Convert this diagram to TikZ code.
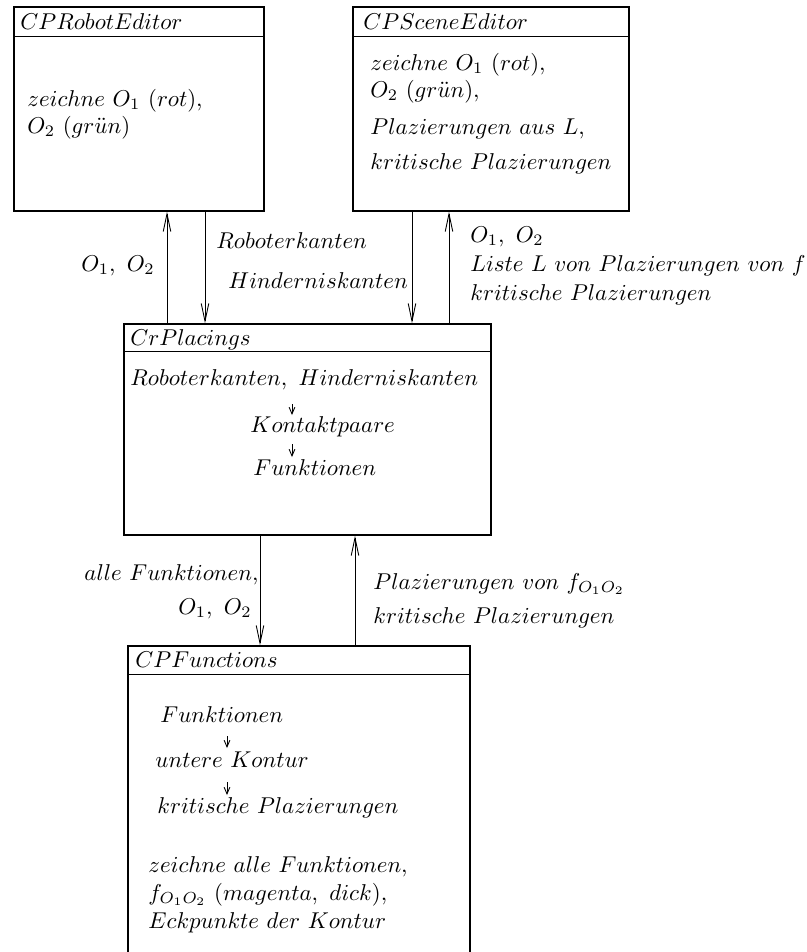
\documentclass[tikz,border=0pt]{standalone}
\usepackage{tikz}
\usetikzlibrary{fit}
\usetikzlibrary{arrows.meta}

\tikzset{
  box/.style={draw, line width=0.6pt, inner sep=0pt},
  lbl/.style={anchor=base west, inner sep=0pt, scale=1.03, transform shape},
  lblr/.style={anchor=base east, inner sep=0pt, scale=1.03, transform shape},
  flow/.style={-{Straight Barb[length=3pt,width=2.6pt]}, line width=0.4pt}
}

\begin{document}
\begin{tikzpicture}[%
  >={Straight Barb[length=8pt,width=3.4pt]},
  x=0.45pt, y=-0.45pt
]

  \useasboundingbox (0,0) rectangle (807,952);

  % corners of the four classes
  \coordinate (r1) at (14,7);    \coordinate (r2) at (264,211);
  \coordinate (s1) at (353,7);   \coordinate (s2) at (629,211);
  \coordinate (p1) at (124,324); \coordinate (p2) at (491,535);
  \coordinate (f1) at (128,646); \coordinate (f2) at (470,960);

  \node[box, fit=(r1)(r2)] (robot) {};
  \node[box, fit=(s1)(s2)] (scene) {};
  \node[box, fit=(p1)(p2)] (placings) {};
  \node[box, fit=(f1)(f2)] (functions) {};

  \draw[line width=0.6pt] (robot.north west) ++(0,30) coordinate (rh) -- (rh -| robot.east);
  \draw[line width=0.6pt] (scene.north west) ++(0,30) coordinate (sh) -- (sh -| scene.east);
  \draw[line width=0.6pt] (placings.north west) ++(0,28) coordinate (ph) -- (ph -| placings.east);
  \draw[line width=0.6pt] (functions.north west) ++(0,29) coordinate (fh) -- (fh -| functions.east);

  \node[lbl] (robtitle) at (20,29) {$CPRobotEditor$};
  \node[lbl] (scntitle) at (363,29) {$CPSceneEditor$};
  \node[lbl] (pltitle) at (130,345) {$CrPlacings$};
  \node[lbl] (fntitle) at (135,667) {$CPFunctions$};

  % CPRobotEditor
  \node[lbl] (rob1) at (27,106) {$zeichne\ O_1\ (rot),$};
  \node[lbl] (rob2) at (27,133) {$O_2\ (gr\ddot{u}n)$};

  % CPSceneEditor
  \node[lbl] (scn1) at (370,70) {$zeichne\ O_1\ (rot),$};
  \node[lbl] (scn2) at (370,97) {$O_2\ (gr\ddot{u}n),$};
  \node[lbl] (scn3) at (370,134) {$Plazierungen\ aus\ L,$};
  \node[lbl] (scn4) at (370,169) {$kritische\ Plazierungen$};

  % CrPlacings
  \node[lbl] (edges) at (130,385) {$Roboterkanten,\ Hinderniskanten$};
  \node[lbl] (pairs) at (250,432) {$Kontaktpaare$};
  \node[lbl] (plfun) at (253,475) {$Funktionen$};
  \coordinate (pa1) at (292,404);
  \coordinate (pa2) at (292,444);
  \draw[flow] (pa1) -- ++(0,11);
  \draw[flow] (pa2) -- ++(0,13);

  % CPFunctions
  \node[lbl] (fn1) at (160,722) {$Funktionen$};
  \node[lbl] (fn2) at (155,767) {$untere\ Kontur$};
  \node[lbl] (fn3) at (157,813) {$kritische\ Plazierungen$};
  \coordinate (fa1) at (227,736);
  \coordinate (fa2) at (227,782);
  \draw[flow] (fa1) -- ++(0,12);
  \draw[flow] (fa2) -- ++(0,13);
  \node[lbl] (fn4) at (148,872) {$zeichne\ alle\ Funktionen,$};
  \node[lbl] (fn5) at (148,900) {$f_{O_1O_2}\ (magenta,\ dick),$};
  \node[lbl] (fn6) at (148,928) {$Eckpunkte\ der\ Kontur$};

  % messages between the classes
  \coordinate (c1) at (167,0);
  \coordinate (c2) at (205,0);
  \coordinate (c3) at (412,0);
  \coordinate (c4) at (449,0);
  \coordinate (c5) at (260,0);
  \coordinate (c6) at (355,0);

  \draw[->] (placings.north -| c1) -- (robot.south -| c1);
  \draw[->] (robot.south -| c2) -- (placings.north -| c2);
  \draw[->] (scene.south -| c3) -- (placings.north -| c3);
  \draw[->] (placings.north -| c4) -- (scene.south -| c4);
  \draw[->] (placings.south -| c5) -- (functions.north -| c5);
  \draw[->] (functions.north -| c6) -- (placings.south -| c6);

  \node[lblr] (m1) at (155,271) {$O_1,\ O_2$};
  \node[lbl] (m2) at (216,248) {$Roboterkanten$};
  \node[lbl] (m3) at (228,288) {$Hinderniskanten$};
  \node[lbl] (m4) at (470,242) {$O_1,\ O_2$};
  \node[lbl] (m5) at (470,271) {$Liste\ L\ von\ Plazierungen\ von\ f$};
  \node[lbl] (m6) at (470,300) {$kritische\ Plazierungen$};
  \node[lblr] (m7) at (259,580) {$alle\ Funktionen,$};
  \node[lblr] (m8) at (252,614) {$O_1,\ O_2$};
  \node[lbl] (m9) at (373,589) {$Plazierungen\ von\ f_{O_1O_2}$};
  \node[lbl] (m10) at (373,623) {$kritische\ Plazierungen$};

\end{tikzpicture}
\end{document}
